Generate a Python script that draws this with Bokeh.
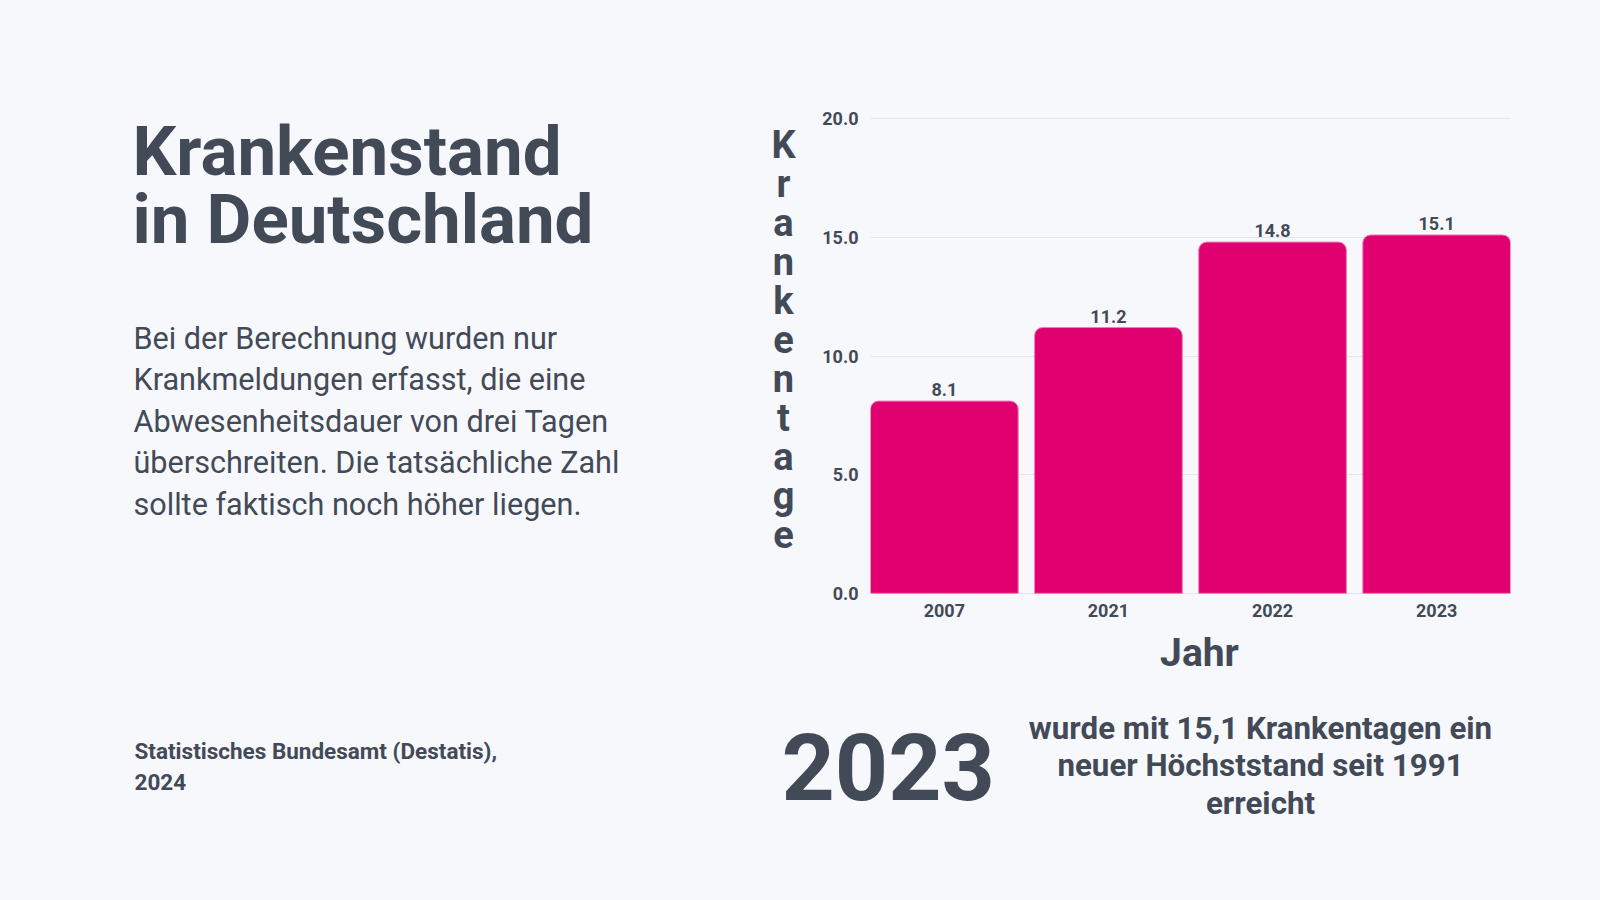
from bokeh.plotting import figure
from bokeh.layouts import column, row
from bokeh.models import Range1d, LabelSet, ColumnDataSource, FixedTicker, PrintfTickFormatter
from bokeh.core.properties import value
from bokeh.embed import file_html
from bokeh.resources import INLINE

# ---------------- data ----------------
years = ["2007", "2021", "2022", "2023"]
sick_days = [8.1, 11.2, 14.8, 15.1]
y_ticks = [0, 5, 10, 15, 20]

title_lines = ["Krankenstand", "in Deutschland"]
body_lines = [
    "Bei der Berechnung wurden nur",
    "Krankmeldungen erfasst, die eine",
    "Abwesenheitsdauer von drei Tagen",
    "überschreiten. Die tatsächliche Zahl",
    "sollte faktisch noch höher liegen.",
]
source_lines = ["Statistisches Bundesamt (Destatis),", "2024"]
highlight_year = "2023"
highlight_lines = ["wurde mit 15,1 Krankentagen ein", "neuer Höchststand seit 1991", "erreicht"]
y_label = "Krankentage"
x_label = "Jahr"

# ---------------- style ----------------
BG = "#f7f8fc"
INK = "#434a57"
PINK = "#e0006f"
GRID = "#e4e6eb"
FONT = "Roboto"

PAGE_W, PAGE_H = 1600, 900
TOP_H = 630            # height of the upper row
LEFT_W = 810           # width of the left text panel
CHART_W = PAGE_W - LEFT_W
F_TOP, F_BOT = 117, 594    # page y of the chart frame
F_LEFT, F_RIGHT = 870, 1510


def text_panel(w, h, top=0, bottom=0, y0=0):
    """Panel whose data coordinates equal page pixel coordinates."""
    f = figure(width=w, height=h, x_range=Range1d(0, w),
               y_range=Range1d(y0 + h - bottom, y0 + top),
               output_backend="svg", toolbar_location=None,
               x_axis_type=None, y_axis_type=None,
               min_border_left=0, min_border_right=0,
               min_border_top=top, min_border_bottom=bottom)
    f.background_fill_color = BG
    f.border_fill_color = BG
    f.outline_line_color = None
    f.grid.visible = False
    return f


def put(f, xs, ys, texts, size, bold=False, align="left"):
    src = ColumnDataSource(dict(x=xs, y=ys, t=texts))
    f.add_layout(LabelSet(x="x", y="y", text="t", source=src,
                          text_font=value(FONT), text_font_size=value(f"{size}px"),
                          text_font_style="bold" if bold else "normal",
                          text_color=INK, text_align=align,
                          text_baseline="alphabetic"))


# ---------------- left panel ----------------
left = text_panel(LEFT_W, TOP_H, top=F_TOP, bottom=TOP_H - F_BOT)
put(left, [132] * len(title_lines), [174 + 68 * i for i in range(len(title_lines))],
    title_lines, 69, bold=True)
put(left, [133] * len(body_lines), [348 + 41.6 * i for i in range(len(body_lines))],
    body_lines, 30.6)
letters = list(y_label)
put(left, [783] * len(letters), [157 + 39 * i for i in range(len(letters))],
    letters, 38, bold=True, align="center")

# ---------------- chart ----------------
X0, X1 = -0.45, len(years) - 1 + 0.45
chart = figure(width=CHART_W, height=TOP_H, x_range=Range1d(X0, X1),
               y_range=Range1d(-0.05, 20.05),
               output_backend="svg", toolbar_location=None,
               min_border_left=F_LEFT - LEFT_W, min_border_right=PAGE_W - F_RIGHT,
               min_border_top=F_TOP, min_border_bottom=TOP_H - F_BOT)
chart.background_fill_color = BG
chart.border_fill_color = BG
chart.outline_line_color = None

positions = list(range(len(years)))
src = ColumnDataSource(dict(x=positions, top=sick_days,
                            lbl=[f"{v:.1f}" for v in sick_days]))
chart.vbar(x="x", top="top", bottom=0, width=0.9, source=src,
           fill_color=PINK, line_color="#f07ab5", line_width=1,
           border_radius=(8, 8, 0, 0))
chart.add_layout(LabelSet(x="x", y="top", text="lbl", source=src, y_offset=5,
                          text_align="center", text_baseline="alphabetic",
                          text_font=value(FONT), text_font_size="18px",
                          text_font_style="bold", text_color=INK))

chart.xaxis.ticker = FixedTicker(ticks=positions)
chart.xaxis.major_label_overrides = {i: y for i, y in zip(positions, years)}
chart.yaxis.ticker = FixedTicker(ticks=y_ticks)
chart.yaxis.formatter = PrintfTickFormatter(format="%.1f")
for ax in (chart.xaxis, chart.yaxis):
    ax.axis_line_color = None
    ax.major_tick_line_color = None
    ax.minor_tick_line_color = None
    ax.major_tick_out = 0
    ax.major_tick_in = 0
    ax.major_label_text_font = FONT
    ax.major_label_text_font_size = "18px"
    ax.major_label_text_font_style = "bold"
    ax.major_label_text_color = INK
chart.xaxis.major_label_standoff = 9
chart.yaxis.major_label_standoff = 12
chart.xgrid.grid_line_color = None
chart.ygrid.ticker = FixedTicker(ticks=y_ticks)
chart.ygrid.grid_line_color = GRID

# ---------------- bottom panel ----------------
BOT_H = PAGE_H - TOP_H
bottom = text_panel(PAGE_W, BOT_H, y0=TOP_H)
put(bottom, [1199], [665], [x_label], 39, bold=True, align="center")
put(bottom, [134] * len(source_lines), [758 + 31 * i for i in range(len(source_lines))],
    source_lines, 22.5, bold=True)
put(bottom, [781], [799], [highlight_year], 93, bold=True)
put(bottom, [1260] * len(highlight_lines), [738 + 37.5 * i for i in range(len(highlight_lines))],
    highlight_lines, 31.3, bold=True, align="center")

layout = column(row(left, chart, spacing=0), bottom, spacing=0)
layout.background = BG

html = file_html(layout, INLINE)
html = html.replace("<body>", f'<body style="background-color:{BG};">', 1)
open("out.html", "w").write(html)
